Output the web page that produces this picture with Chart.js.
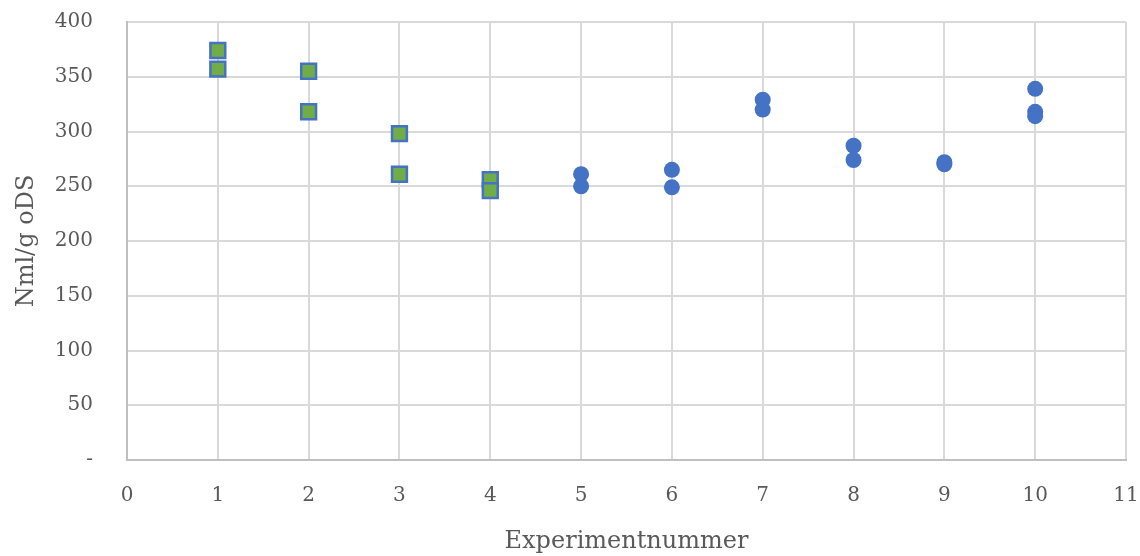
<!DOCTYPE html>
<html>
<head>
<meta charset="utf-8">
<script src="https://cdn.jsdelivr.net/npm/chart.js@4/dist/chart.umd.min.js"></script>
<style>
html,body{margin:0;padding:0;background:#fff;}
#wrap{width:1140px;height:556px;position:relative;}
</style>
</head>
<body>
<div id="wrap"><canvas id="c" width="1140" height="556"></canvas></div>
<script>
// Series 1: experiments 1-4 (green squares)
const squareX = [1, 1, 2, 2, 3, 3, 4, 4];
const squareY = [374, 357, 355, 318, 298, 261, 256, 246];
// Series 2: experiments 5-10 (blue circles)
const circleX = [5, 5, 6, 6, 7, 7, 8, 8, 9, 9, 10, 10, 10];
const circleY = [261, 250, 265, 249, 329, 320, 287, 274, 272, 270, 339, 318, 314];
const xTitle = 'Experimentnummer';
const yTitle = 'Nml/g oDS';

const toPoints = (xs, ys) => xs.map((x, i) => ({x: x, y: ys[i]}));

const FONT = "'DejaVu Serif', serif";
const TXT = '#595959';

new Chart(document.getElementById('c'), {
  type: 'scatter',
  data: {
    datasets: [
      {
        data: toPoints(squareX, squareY),
        pointStyle: 'rect',
        pointRadius: 10.5,
        pointHoverRadius: 10.5,
        backgroundColor: '#70AD47',
        borderColor: '#4472C4',
        borderWidth: 2.5
      },
      {
        data: toPoints(circleX, circleY),
        pointStyle: 'circle',
        pointRadius: 8,
        pointHoverRadius: 8,
        backgroundColor: '#4472C4',
        borderColor: '#4472C4',
        borderWidth: 0
      }
    ]
  },
  options: {
    responsive: false,
    animation: false,
    layout: {autoPadding: false, padding: {top: 22, right: 14, bottom: 0, left: 12}},
    plugins: {legend: {display: false}, tooltip: {enabled: false}},
    scales: {
      x: {
        type: 'linear',
        min: 0, max: 11,
        ticks: {stepSize: 1, color: TXT, font: {family: FONT, size: 20}, padding: 24},
        grid: {color: '#d9d9d9', lineWidth: 2, drawTicks: false},
        border: {color: '#bfbfbf', width: 2},
        title: {display: true, text: xTitle, color: TXT, font: {family: FONT, size: 24}, padding: {top: 14, bottom: 0}},
        afterFit: (s) => { s.height = 96; s.paddingLeft = 0; s.paddingRight = 0; }
      },
      y: {
        min: 0, max: 400,
        ticks: {stepSize: 50, color: TXT, font: {family: FONT, size: 20}, padding: 34,
          callback: (v) => v === 0 ? '-' : v},
        grid: {color: '#d9d9d9', lineWidth: 2, drawTicks: false},
        border: {color: '#bfbfbf', width: 2},
        title: {display: true, text: yTitle, color: TXT, font: {family: FONT, size: 24}, padding: {top: 0, bottom: 4}},
        afterFit: (s) => { s.width = 115; s.paddingTop = 0; s.paddingBottom = 0; }
      }
    }
  }
});
</script>
</body>
</html>
